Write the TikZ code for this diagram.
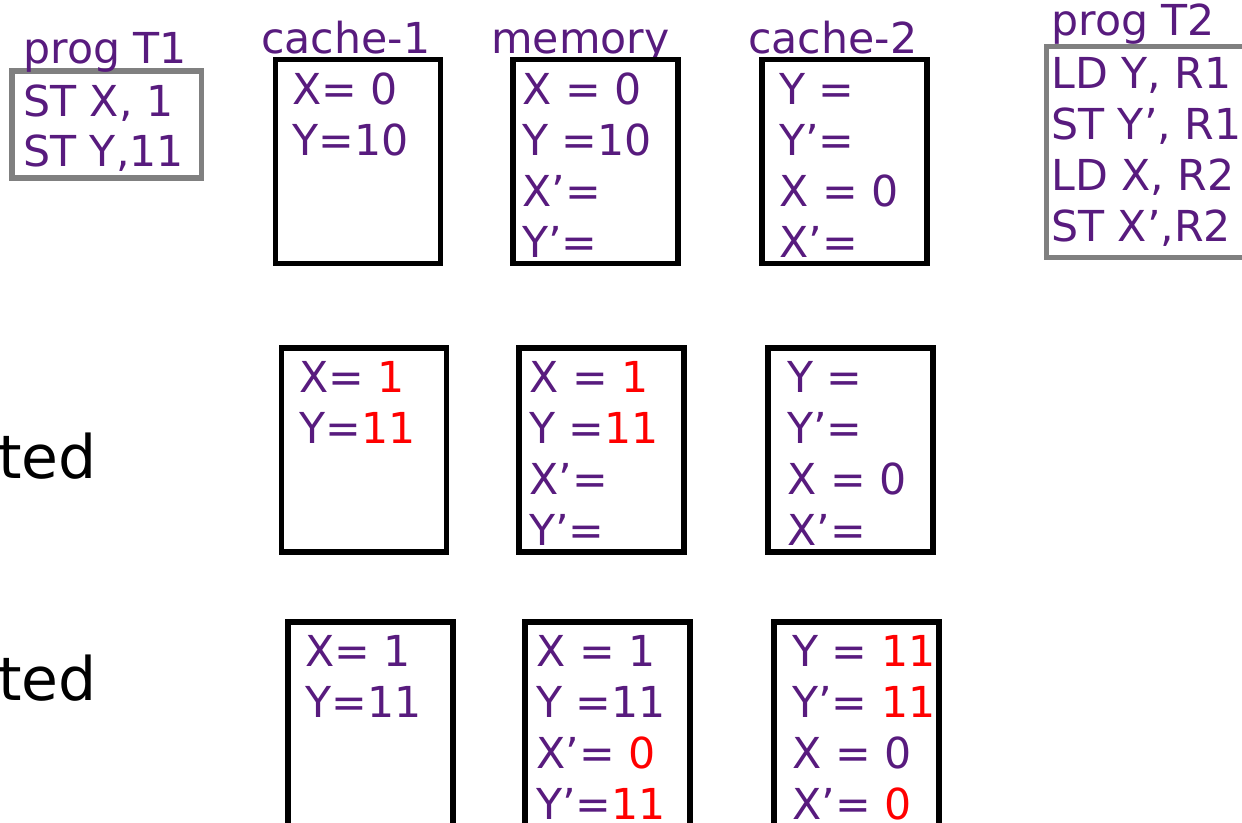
\documentclass[tikz,border=0pt]{standalone}
\usepackage{fontspec}
\setmainfont{DejaVu Sans}
\usepackage{tikz}
\usetikzlibrary{positioning}
\definecolor{cohpurple}{HTML}{581B7E}
\definecolor{cohred}{HTML}{FF0000}
\definecolor{cohgray}{HTML}{808080}
\newcommand{\upd}[1]{\textcolor{cohred}{#1}}

\begin{document}
\begin{tikzpicture}[
    x=0.75pt, y=-0.75pt,
    cell/.style={draw=black, line width=4.2pt, anchor=north west, outer sep=0pt,
                 inner sep=0pt, minimum width=123.75pt, minimum height=153pt},
    prog/.style={draw=cohgray, line width=4pt, anchor=north west, outer sep=0pt,
                 inner sep=0pt},
    vals/.style={anchor=north west, inner sep=0pt, align=left, text=cohpurple,
                 font=\fontsize{32pt}{38.25pt}\selectfont},
    title/.style={anchor=base west, inner sep=0pt, text=cohpurple,
                  font=\fontsize{32pt}{38.25pt}\selectfont},
    side/.style={anchor=base east, inner sep=0pt, text=black,
                 font=\fontsize{45pt}{54pt}\selectfont}
]
\useasboundingbox (0,0) rectangle (1242,822);

% programs
\node[prog, minimum width=142pt, minimum height=80.25pt] (progA) at (12,71) {};
\node[prog, minimum width=168pt, minimum height=158.25pt] (progB) at (1046.5,46.5) {};
\node[vals, font=\fontsize{32pt}{37.5pt}\selectfont] (progAv) at (23,85) {ST X, 1\\ST Y,11};
\node[vals] (progBv) at (1051,57) {LD Y, R1\\ST Y’, R1\\LD X, R2\\ST X’,R2};
\node[title] (lblA) at (23,63) {prog T1};
\node[title] (lblB) at (1051,35) {prog T2};

% headings
\node[title] (lblc1) at (261,53) {cache-1};
\node[title] (lblmem) at (491,53) {memory};
\node[title] (lblc2) at (748,53) {cache-2};

% initial state
\node[cell] (c1top) at (275.5,59.5) {};
\node[cell] (memtop) at (513,59.5) {};
\node[cell] (c2top) at (762,59.5) {};
\node[vals] (c1topv) at (292,73) {X= 0\\Y=10};
\node[vals] (memtopv) at (522,73) {X = 0\\Y =10\\X’=\\Y’=};
\node[vals] (c2topv) at (779,73) {Y =\\Y’=\\X = 0\\X’=};

% after T1
\node[side] (sidemid) at (97,478) {ted};
\node[cell] (c1mid) at (281.5,348) {};
\node[cell] (memmid) at (519,348) {};
\node[cell] (c2mid) at (768,348) {};
\node[vals] (c1midv) at (299,361) {X= \upd{1}\\Y=\upd{11}};
\node[vals] (memmidv) at (529,361) {X = \upd{1}\\Y =\upd{11}\\X’=\\Y’=};
\node[vals] (c2midv) at (787,361) {Y =\\Y’=\\X = 0\\X’=};

% after T2
\node[side] (sidebot) at (97,700) {ted};
\node[cell] (c1bot) at (288,622) {};
\node[cell] (membot) at (525,622) {};
\node[cell] (c2bot) at (774,622) {};
\node[vals] (c1botv) at (305,635) {X= 1\\Y=11};
\node[vals] (membotv) at (536,635) {X = 1\\Y =11\\X’= \upd{0}\\Y’=\upd{11}};
\node[vals] (c2botv) at (792,635) {Y = \upd{11}\\Y’= \upd{11}\\X = 0\\X’= \upd{0}};
\end{tikzpicture}
\end{document}
